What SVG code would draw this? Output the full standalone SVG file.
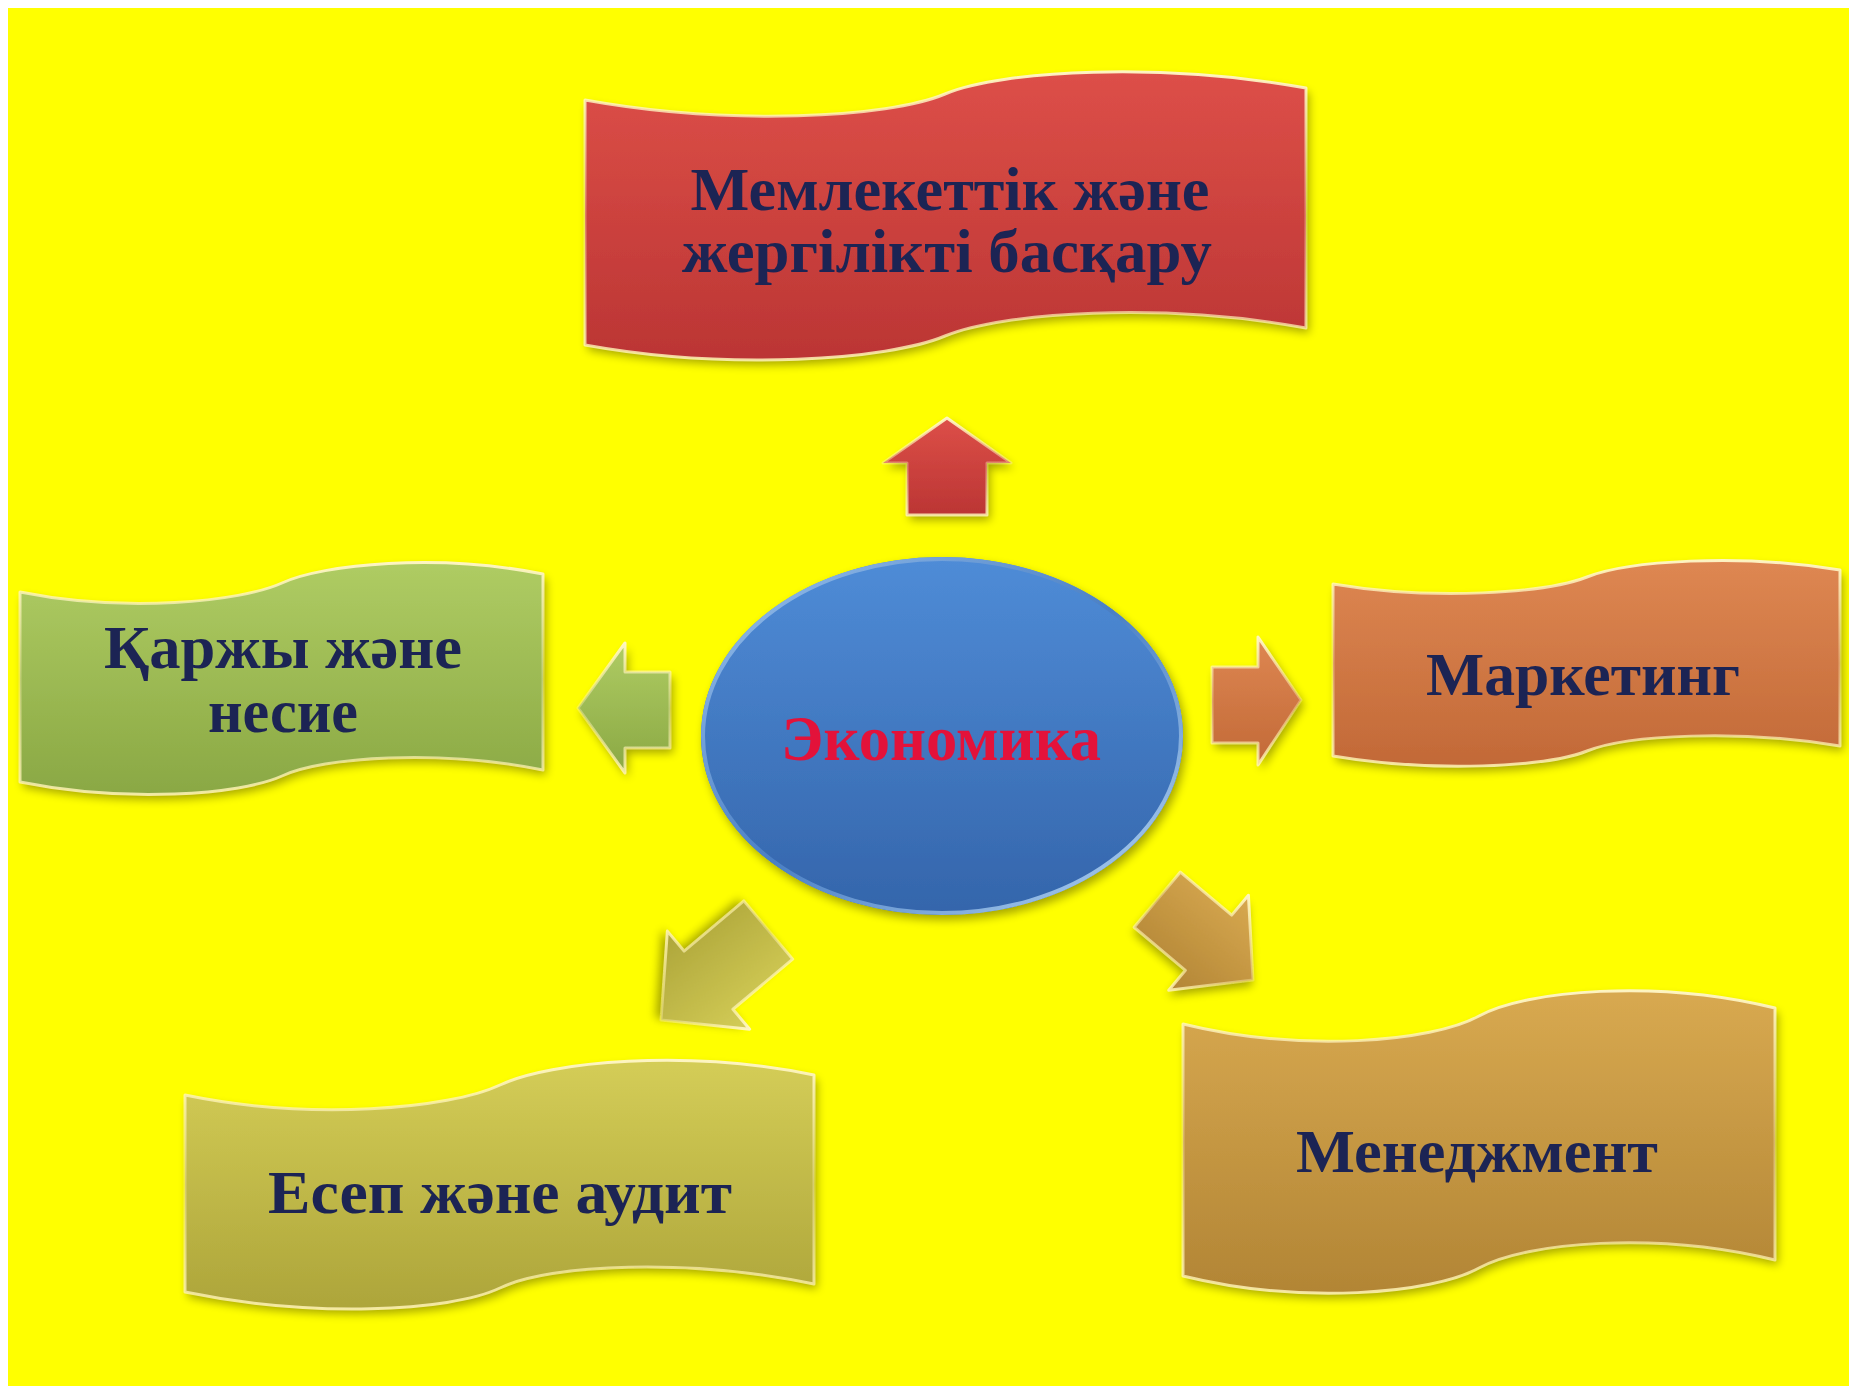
<svg xmlns="http://www.w3.org/2000/svg" width="1849" height="1386" viewBox="0 0 1849 1386">
  <defs>
    <style>
      .lbl { font-family: "Liberation Serif", "DejaVu Serif", serif; font-weight: bold; font-size: 62px; fill: #1c2454; text-anchor: middle; }
      .center { font-family: "Liberation Serif", "DejaVu Serif", serif; font-weight: bold; font-size: 64px; fill: #e3123a; text-anchor: middle; }
      .shape { filter: url(#shadow); }
      .rim { fill: none; stroke-width: 3; stroke-linejoin: round; }
    </style>
    <filter id="shadow" x="-10%" y="-10%" width="125%" height="130%">
      <feGaussianBlur in="SourceAlpha" stdDeviation="5"/>
      <feOffset dx="3" dy="5" result="b"/>
      <feComponentTransfer><feFuncA type="linear" slope="0.35"/></feComponentTransfer>
      <feMerge><feMergeNode/><feMergeNode in="SourceGraphic"/></feMerge>
    </filter>
    <linearGradient id="gRed" x1="0" y1="0" x2="0" y2="1"><stop offset="0" stop-color="#dd4f48"/><stop offset="1" stop-color="#bb3534"/></linearGradient>
    <linearGradient id="gGreen" x1="0" y1="0" x2="0" y2="1"><stop offset="0" stop-color="#afcc63"/><stop offset="1" stop-color="#8aa844"/></linearGradient>
    <linearGradient id="gOrange" x1="0" y1="0" x2="0" y2="1"><stop offset="0" stop-color="#de8752"/><stop offset="1" stop-color="#c26937"/></linearGradient>
    <linearGradient id="gOlive" x1="0" y1="0" x2="0" y2="1"><stop offset="0" stop-color="#d4cd57"/><stop offset="1" stop-color="#ada53a"/></linearGradient>
    <linearGradient id="gBrown" x1="0" y1="0" x2="0" y2="1"><stop offset="0" stop-color="#d8a950"/><stop offset="1" stop-color="#b28535"/></linearGradient>
    <linearGradient id="gBlue" x1="0" y1="0" x2="0" y2="1"><stop offset="0" stop-color="#4f8cd7"/><stop offset="1" stop-color="#3465ab"/></linearGradient>
    <linearGradient id="rimLight" x1="0" y1="0" x2="0" y2="1"><stop offset="0" stop-color="#fff6c8" stop-opacity="0.95"/><stop offset="0.5" stop-color="#fff0b0" stop-opacity="0.35"/><stop offset="1" stop-color="#fff3b8" stop-opacity="0.85"/></linearGradient>
    <linearGradient id="rimBlue" x1="0" y1="0" x2="1" y2="1"><stop offset="0" stop-color="#9cc4ee"/><stop offset="0.5" stop-color="#4a7fc4"/><stop offset="1" stop-color="#b8d8f4"/></linearGradient>
  </defs>

  <rect x="0" y="0" width="1849" height="1386" fill="#ffffff"/>
  <rect x="8" y="8" width="1841" height="1378" fill="#ffff00"/>

  <g id="connectors">
    <polygon class="shape" fill="url(#gRed)" points="947,418 1011,463 987,463 987,515 907,515 907,463 883,463"/>
    <polygon class="rim" stroke="url(#rimLight)" points="947,418 1011,463 987,463 987,515 907,515 907,463 883,463"/>
    <polygon class="shape" fill="url(#gGreen)" points="578,708 625,643 625,672 670,672 670,748 625,748 625,773"/>
    <polygon class="rim" stroke="url(#rimLight)" points="578,708 625,643 625,672 670,672 670,748 625,748 625,773"/>
    <polygon class="shape" fill="url(#gOrange)" points="1301,700 1258,637 1258,667 1212,667 1212,743 1258,743 1258,765"/>
    <polygon class="rim" stroke="url(#rimLight)" points="1301,700 1258,637 1258,667 1212,667 1212,743 1258,743 1258,765"/>
    <g transform="translate(661,1020) rotate(140)">
      <polygon class="shape" fill="url(#gOlive)" points="0,0 -62,64 -62,38 -140,38 -140,-38 -62,-38 -62,-64"/>
      <polygon class="rim" stroke="url(#rimLight)" points="0,0 -62,64 -62,38 -140,38 -140,-38 -62,-38 -62,-64"/>
    </g>
    <g transform="translate(1253,980) rotate(40)">
      <polygon class="shape" fill="url(#gBrown)" points="0,0 -58,62 -58,36 -125,36 -125,-36 -58,-36 -58,-62"/>
      <polygon class="rim" stroke="url(#rimLight)" points="0,0 -58,62 -58,36 -125,36 -125,-36 -58,-36 -58,-62"/>
    </g>
  </g>

  <g id="node-center">
    <ellipse class="shape" cx="942" cy="736" rx="241" ry="179" fill="url(#gBlue)"/>
    <ellipse cx="942" cy="736" rx="239" ry="177" fill="none" stroke="url(#rimBlue)" stroke-width="4"/>
    <text class="center" x="941" y="760" textLength="320" lengthAdjust="spacingAndGlyphs">Экономика</text>
  </g>

  <g id="node-top">
    <path class="shape" fill="url(#gRed)" d="M585,100 C729,126 888,118 945,94 C1003,70 1162,62 1306,88 L1306,328 C1162,302 1003,312 945,336 C888,360 729,371 585,345 Z"/>
    <path class="rim" stroke="url(#rimLight)" d="M585,100 C729,126 888,118 945,94 C1003,70 1162,62 1306,88 L1306,328 C1162,302 1003,312 945,336 C888,360 729,371 585,345 Z"/>
    <text class="lbl" x="950" y="210" textLength="519" lengthAdjust="spacingAndGlyphs">Мемлекеттік және</text>
    <text class="lbl" x="947" y="272" textLength="530" lengthAdjust="spacingAndGlyphs">жергілікті басқару</text>
  </g>

  <g id="node-left">
    <path class="shape" fill="url(#gGreen)" d="M20,592 C125,613 240,602 282,583 C323,564 438,553 543,574 L543,770 C438,749 323,757 282,776 C240,795 125,803 20,782 Z"/>
    <path class="rim" stroke="url(#rimLight)" d="M20,592 C125,613 240,602 282,583 C323,564 438,553 543,574 L543,770 C438,749 323,757 282,776 C240,795 125,803 20,782 Z"/>
    <text class="lbl" x="283" y="668" textLength="358" lengthAdjust="spacingAndGlyphs">Қаржы және</text>
    <text class="lbl" x="283" y="732" textLength="150" lengthAdjust="spacingAndGlyphs">несие</text>
  </g>

  <g id="node-right">
    <path class="shape" fill="url(#gOrange)" d="M1333,584 C1434,601 1546,593 1587,577 C1627,561 1739,553 1840,570 L1840,746 C1739,729 1627,735 1587,751 C1546,767 1434,773 1333,756 Z"/>
    <path class="rim" stroke="url(#rimLight)" d="M1333,584 C1434,601 1546,593 1587,577 C1627,561 1739,553 1840,570 L1840,746 C1739,729 1627,735 1587,751 C1546,767 1434,773 1333,756 Z"/>
    <text class="lbl" x="1583" y="695" textLength="314" lengthAdjust="spacingAndGlyphs">Маркетинг</text>
  </g>

  <g id="node-bottom-left">
    <path class="shape" fill="url(#gOlive)" d="M185,1095 C311,1121 449,1109 500,1085 C550,1061 688,1049 814,1075 L814,1284 C688,1258 550,1264 500,1288 C449,1312 311,1318 185,1292 Z"/>
    <path class="rim" stroke="url(#rimLight)" d="M185,1095 C311,1121 449,1109 500,1085 C550,1061 688,1049 814,1075 L814,1284 C688,1258 550,1264 500,1288 C449,1312 311,1318 185,1292 Z"/>
    <text class="lbl" x="500" y="1213" textLength="464" lengthAdjust="spacingAndGlyphs">Есеп және аудит</text>
  </g>

  <g id="node-bottom-right">
    <path class="shape" fill="url(#gBrown)" d="M1183,1024 C1301,1053 1432,1042 1479,1016 C1526,990 1657,979 1775,1008 L1775,1260 C1657,1231 1526,1242 1479,1268 C1432,1294 1301,1305 1183,1276 Z"/>
    <path class="rim" stroke="url(#rimLight)" d="M1183,1024 C1301,1053 1432,1042 1479,1016 C1526,990 1657,979 1775,1008 L1775,1260 C1657,1231 1526,1242 1479,1268 C1432,1294 1301,1305 1183,1276 Z"/>
    <text class="lbl" x="1477" y="1172" textLength="362" lengthAdjust="spacingAndGlyphs">Менеджмент</text>
  </g>
</svg>
